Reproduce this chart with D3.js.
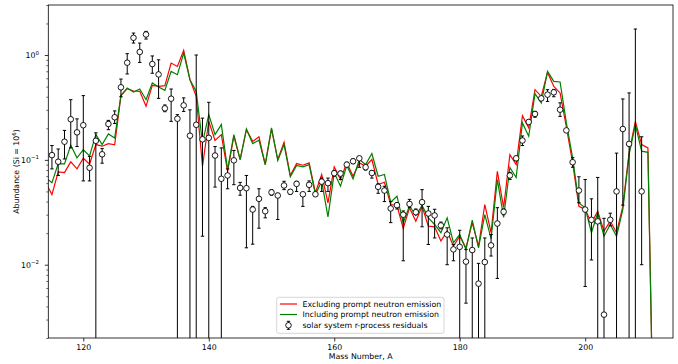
<!DOCTYPE html>
<html><head><meta charset="utf-8">
<script src="https://cdn.jsdelivr.net/npm/d3@7"></script>
<style>body{margin:0;background:#fff;} text{font-family:"DejaVu Sans",sans-serif;fill:#000;}</style>
</head><body><svg id="c" width="678" height="364"></svg>
<script>
// ---- data ----
const modelMass = d3.range(114, 212); // 114..211
const excludingPrompt = [0.0608,0.0467,0.0769,0.0757,0.0957,0.0821,0.1035,0.0908,0.140,0.135,
  0.143,0.139,0.410,0.478,0.454,0.450,0.324,0.513,0.502,0.510,
  0.839,0.778,1.106,0.582,0.403,0.0869,0.233,0.153,0.174,0.0778,
  0.168,0.1007,0.194,0.150,0.166,0.0902,0.197,0.1007,0.147,0.0709,
  0.0922,0.0889,0.0936,0.0485,0.0725,0.0389,0.0857,0.0649,0.0936,0.0698,
  0.0936,0.0869,0.1007,0.0582,0.0612,0.0375,0.0367,0.0222,0.0349,0.0260,
  0.0361,0.0233,0.0230,0.0168,0.0209,0.0150,0.0187,0.0145,0.0251,0.0150,
  0.0375,0.0202,0.0778,0.0351,0.112,0.0902,0.264,0.202,0.467,0.403,
  0.683,0.502,0.435,0.206,0.0936,0.0361,0.0336,0.0251,0.0324,0.0209,
  0.0260,0.0202,0.0361,0.117,0.233,0.140,0.130,0.0001];
const includingPrompt = [0.0678,0.0604,0.0922,0.0916,0.138,0.1045,0.125,0.109,0.175,0.140,
  0.177,0.162,0.410,0.485,0.444,0.474,0.375,0.541,0.496,0.460,
  0.698,0.649,1.045,0.582,0.450,0.145,0.270,0.174,0.217,0.0809,
  0.174,0.1007,0.197,0.143,0.154,0.0902,0.202,0.0991,0.140,0.0689,
  0.0883,0.0857,0.0902,0.0467,0.0625,0.0286,0.0752,0.0561,0.0883,0.0659,
  0.1007,0.0902,0.115,0.0698,0.0725,0.0395,0.0450,0.0251,0.0365,0.0295,
  0.0367,0.0280,0.0242,0.0202,0.0280,0.0162,0.0194,0.0140,0.0266,0.0145,
  0.0301,0.0177,0.0649,0.0282,0.0845,0.0678,0.225,0.168,0.428,0.349,
  0.698,0.561,0.553,0.225,0.1045,0.0389,0.0349,0.0202,0.0313,0.0187,
  0.0242,0.0187,0.0336,0.112,0.217,0.121,0.118,0.0001];
const residualMass = d3.range(115, 210); // 115..209
const residualValue = [0.111,0.096,0.149,0.244,0.183,0.214,0.084,0.152,0.113,0.220,
  0.255,0.492,0.845,1.46,1.07,1.57,0.82,0.653,0.310,0.383,
  0.247,0.331,0.170,0.216,0.157,0.162,0.110,0.066,0.071,0.099,
  0.054,0.0537,0.0336,0.0425,0.0324,0.049,0.0457,0.057,0.0496,0.059,
  0.047,0.0578,0.047,0.062,0.060,0.0746,0.074,0.090,0.097,0.1035,
  0.085,0.075,0.0553,0.051,0.0344,0.037,0.030,0.038,0.0317,0.0395,
  0.0308,0.0295,0.0237,0.0194,0.014,0.0148,0.0107,0.0138,0.0066,0.0106,
  0.0153,0.0247,0.032,0.071,0.1035,0.153,0.230,0.274,0.386,0.419,
  0.441,0.301,0.191,0.095,0.051,0.0336,0.0268,0.0259,0.00334,0.0268,
  0.050,0.197,0.142,null,0.050];
const residualLow = [0.082,0.071,0.102,0.130,0.134,0.063,0.063,0,0.093,0.194,
  0.222,0.40,0.66,1.30,0.85,1.42,0.67,0.386,0.288,0.233,
  0,0.29,0,0,0.0187,0,0.055,0,0.053,0.058,
  0.046,0.0145,0.0157,0.0223,0.028,0.046,0.027,0.052,0.047,0.050,
  0.036,0.050,0.045,0.050,0.050,0.070,0.065,0.085,0.092,0.085,
  0.080,0.067,0.048,0.040,0.0252,0.034,0.0109,0.035,0.030,0.023,
  0.0156,0.018,0.022,0.010,0.0109,0,0.0043,0,0,0,
  0.0121,0.0074,0.030,0.065,0.098,0.137,0.22,0.255,0.37,0.361,
  0.40,0.26,0.185,0.085,0.039,0.0062,0.0111,0,0,0.0235,
  0,0.037,0,0,0.010];
const residualHigh = [0.137,0.127,0.191,0.375,0.246,0.41,0.108,0.181,0.128,0.238,
  0.293,0.59,1.03,1.62,1.30,1.68,0.98,0.90,0.334,0.474,
  0.27,0.39,0.30,1.0,0.25,0.354,0.134,0.130,0.082,0.123,
  0.061,0.071,0.036,0.053,0.035,0.052,0.048,0.0625,0.052,0.0625,
  0.048,0.063,0.049,0.067,0.067,0.079,0.078,0.095,0.102,0.107,
  0.088,0.079,0.059,0.056,0.040,0.039,0.0326,0.042,0.034,0.052,
  0.036,0.0338,0.0255,0.0225,0.0156,0.0213,0.014,0.018,0.0103,0.018,
  0.0194,0.035,0.034,0.076,0.108,0.169,0.24,0.29,0.40,0.467,
  0.47,0.35,0.197,0.105,0.069,0.065,0.0425,0.068,0.0277,0.031,
  0.116,0.381,0.435,1.77,0.166];
const xTicks = [120,140,160,180,200];
const yTicks = [0.01,0.1,1];
const yTickExp = ["\u22122","\u22121","0"];
const legendLabels = ["Excluding prompt neutron emission","Including prompt neutron emission","solar system r-process residuals"];

// ---- chart ----
const svg = d3.select("#c");
const L=48.3, R=673, T=5, B=338;
const x = d3.scaleLinear().domain([114.42, 214]).range([L, R]);
const y = d3.scaleLog().domain([0.002, 3]).range([B, T]);
const fs = 7.8;

svg.append("defs").append("clipPath").attr("id","clip")
  .append("rect").attr("x",L).attr("y",T).attr("width",R-L).attr("height",B-T);
const plot = svg.append("g").attr("clip-path","url(#clip)");

const line = d3.line().x((d,i)=>x(modelMass[i])).y(d=>y(d));
plot.append("path").datum(excludingPrompt).attr("d",line)
  .attr("fill","none").attr("stroke","#ff0000").attr("stroke-width",1.2);
plot.append("path").datum(includingPrompt).attr("d",line)
  .attr("fill","none").attr("stroke","#008000").attr("stroke-width",1.2);

const yv = v => v > 0 ? y(v) : B + 5;
const res = residualMass.map((a,i)=>({a, v:residualValue[i], lo:residualLow[i], hi:residualHigh[i]}));
const eb = plot.append("g").attr("stroke","#000").attr("stroke-width",1);
res.forEach(d=>{
  const cx = x(d.a);
  eb.append("line").attr("x1",cx).attr("x2",cx).attr("y1",yv(d.lo)).attr("y2",yv(d.hi));
  eb.append("line").attr("x1",cx-1.7).attr("x2",cx+1.7).attr("y1",yv(d.hi)).attr("y2",yv(d.hi));
  if (d.lo>0) eb.append("line").attr("x1",cx-1.7).attr("x2",cx+1.7).attr("y1",yv(d.lo)).attr("y2",yv(d.lo));
});
plot.append("g").selectAll("circle").data(res.filter(d=>d.v!=null)).join("circle")
  .attr("cx",d=>x(d.a)).attr("cy",d=>y(d.v)).attr("r",2.8)
  .attr("fill","#fff").attr("stroke","#000").attr("stroke-width",0.9);

// axes
const xa = svg.append("g").attr("transform",`translate(0,${B})`)
  .call(d3.axisBottom(x).tickValues(xTicks).tickSize(3.5).tickSizeOuter(0).tickPadding(2.5).tickFormat(d3.format("d")));
xa.select(".domain").remove();
xa.selectAll("text").attr("font-size",fs).attr("font-family","DejaVu Sans");
xa.selectAll("line").attr("stroke","#000").attr("stroke-width",0.8);

const minor=[];
for (let e=-3;e<=0;e++) for (let k=2;k<=9;k++){ const v=k*Math.pow(10,e); if(v>=0.002&&v<=3) minor.push(v); }
const yaMinor = svg.append("g").attr("transform",`translate(${L},0)`)
  .call(d3.axisLeft(y).tickValues(minor).tickSize(2).tickSizeOuter(0).tickFormat(""));
yaMinor.select(".domain").remove();
yaMinor.selectAll("line").attr("stroke","#000").attr("stroke-width",0.6);
const ya = svg.append("g").attr("transform",`translate(${L},0)`)
  .call(d3.axisLeft(y).tickValues(yTicks).tickSize(3.5).tickSizeOuter(0).tickFormat(""));
ya.select(".domain").remove();
ya.selectAll("line").attr("stroke","#000").attr("stroke-width",0.8);
yTicks.forEach((t,i)=>{
  const tx = svg.append("text").attr("x",39).attr("y",y(t)+3).attr("text-anchor","end").attr("font-size",fs);
  tx.append("tspan").text("10");
  tx.append("tspan").attr("dy",-3.5).attr("font-size",fs*0.7).text(yTickExp[i]);
});

svg.append("rect").attr("x",L).attr("y",T).attr("width",R-L).attr("height",B-T)
  .attr("fill","none").attr("stroke","#000").attr("stroke-width",0.8);

// labels
svg.append("text").attr("x",(L+R)/2).attr("y",359).attr("text-anchor","middle").attr("font-size",fs).text("Mass Number, A");
const yl = svg.append("text").attr("transform",`translate(19,${(T+B)/2}) rotate(-90)`)
  .attr("text-anchor","middle").attr("font-size",fs);
yl.append("tspan").text("Abundance (Si = 10");
yl.append("tspan").attr("dy",-3).attr("font-size",fs*0.7).text("6");
yl.append("tspan").attr("dy",3).text(")");

// legend
const lg = svg.append("g");
lg.append("rect").attr("x",276.7).attr("y",297.3).attr("width",167.3).attr("height",36).attr("rx",2)
  .attr("fill","#fff").attr("fill-opacity",0.8).attr("stroke","#ccc").attr("stroke-width",0.8);
const rows=[304,314.5,325.3];
lg.append("line").attr("x1",280).attr("x2",297).attr("y1",rows[0]).attr("y2",rows[0]).attr("stroke","#ff0000").attr("stroke-width",1.2);
lg.append("line").attr("x1",280).attr("x2",297).attr("y1",rows[1]).attr("y2",rows[1]).attr("stroke","#008000").attr("stroke-width",1.2);
lg.append("line").attr("x1",288.5).attr("x2",288.5).attr("y1",rows[2]-4).attr("y2",rows[2]+4).attr("stroke","#000");
lg.append("line").attr("x1",286.8).attr("x2",290.2).attr("y1",rows[2]-4).attr("y2",rows[2]-4).attr("stroke","#000");
lg.append("line").attr("x1",286.8).attr("x2",290.2).attr("y1",rows[2]+4).attr("y2",rows[2]+4).attr("stroke","#000");
lg.append("circle").attr("cx",288.5).attr("cy",rows[2]).attr("r",2.8).attr("fill","#fff").attr("stroke","#000").attr("stroke-width",0.9);
legendLabels.forEach((t,i)=>lg.append("text").attr("x",302.5).attr("y",rows[i]+2.8).attr("font-size",fs).text(t));
</script></body></html>
